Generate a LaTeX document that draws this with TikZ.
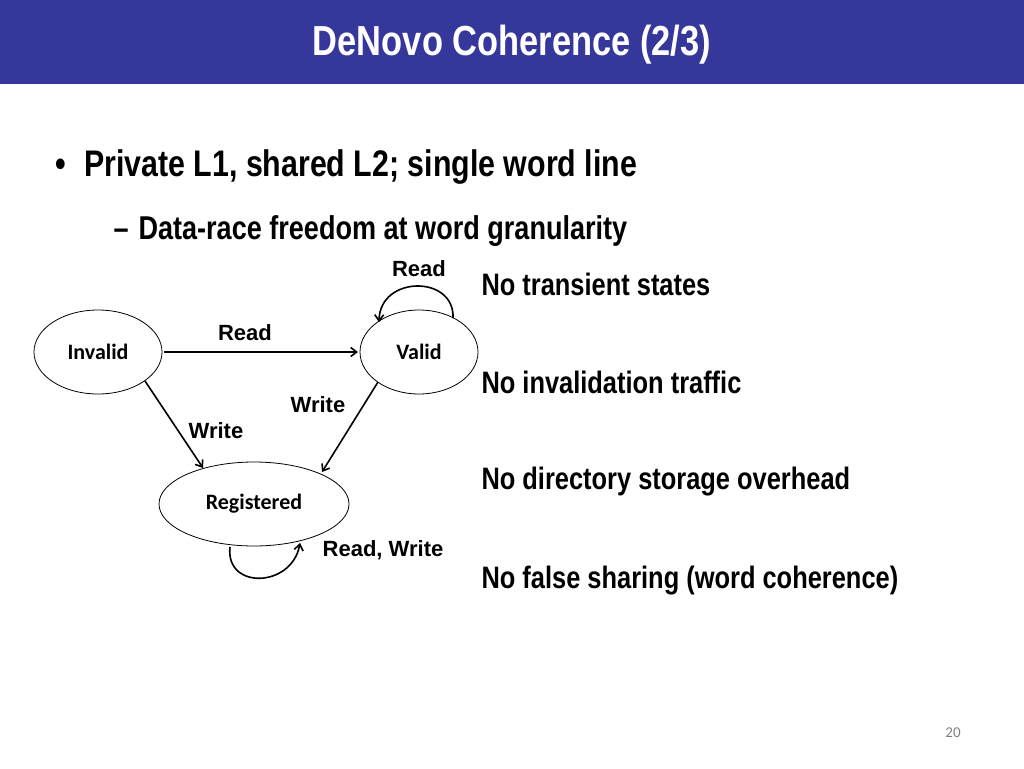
\documentclass[tikz,border=0pt]{standalone}
\usepackage{fontspec}
\setmainfont{Liberation Sans}
\newfontfamily\narrow[FakeStretch=0.82]{Liberation Sans}
\newfontfamily\carl{Carlito}
\usetikzlibrary{arrows.meta,shapes.geometric}
\definecolor{bar}{HTML}{35379A}
\begin{document}
\begin{tikzpicture}[x=1pt,y=-1pt,
  st/.style={draw=black,ellipse,fill=white,line width=0.8pt},
  lab/.style={font=\fontsize{22}{24}\selectfont\bfseries},
  rt/.style={anchor=west,font=\narrow\fontsize{31}{34}\selectfont\bfseries},
  arr/.style={-{Straight Barb[length=6pt,width=9pt]},line width=1.6pt}]
\useasboundingbox (0,0) rectangle (1024,768);
\fill[bar] (0,0) rectangle (1024,84);
\node[white,font=\narrow\fontsize{42}{46}\selectfont\bfseries] (title) at (512,45) {DeNovo Coherence (2/3)};
\node[anchor=west,font=\narrow\fontsize{37}{40}\selectfont\bfseries] (b1) at (52,167) {•\hspace{18pt}Private L1, shared L2; single word line};
\node[anchor=west,font=\narrow\fontsize{33}{36}\selectfont\bfseries] (b2) at (110,231) {–\hspace{10pt}Data-race freedom at word granularity};
\node[st,minimum width=128pt,minimum height=84pt,font=\carl\fontsize{22}{24}\selectfont\bfseries] (inv) at (98,352) {Invalid};
\node[st,minimum width=118pt,minimum height=84pt,font=\carl\fontsize{22}{24}\selectfont\bfseries] (val) at (419,352) {Valid};
\node[st,minimum width=190pt,minimum height=84pt,font=\carl\fontsize{22}{24}\selectfont\bfseries] (reg) at (254,504) {Registered};
\coordinate (i1) at (164,352); \coordinate (v1) at (358,352);
\draw[arr] (i1) -- (v1);
\coordinate (i2) at (145,381); \coordinate (r1) at (203,468);
\draw[arr] (i2) -- (r1);
\coordinate (v2) at (378,382); \coordinate (r2) at (322,472);
\draw[arr] (v2) -- (r2);
\coordinate (va) at (453,318); \coordinate (vb) at (379,322);
\draw[arr] (va) .. controls (455,275) and (380,275) .. (vb);
\coordinate (ra) at (230,547); \coordinate (rb) at (300,543);
\draw[arr] (ra) .. controls (225,590) and (292,588) .. (rb);
\node[lab] (l1) at (419,269) {Read};
\node[lab] (l2) at (245,333) {Read};
\node[lab] (l3) at (318,405) {Write};
\node[lab] (l4) at (216,431) {Write};
\node[lab] (l5) at (383,550) {Read, Write};
\node[rt] (t1) at (478,284) {No transient states};
\node[rt] (t2) at (478,382) {No invalidation traffic};
\node[rt] (t3) at (478,482) {No directory storage overhead};
\node[rt] (t4) at (478,581) {No false sharing (word coherence)};
\node[gray,font=\carl\fontsize{15}{16}\selectfont] (pg) at (953,733) {20};
\end{tikzpicture}
\end{document}
